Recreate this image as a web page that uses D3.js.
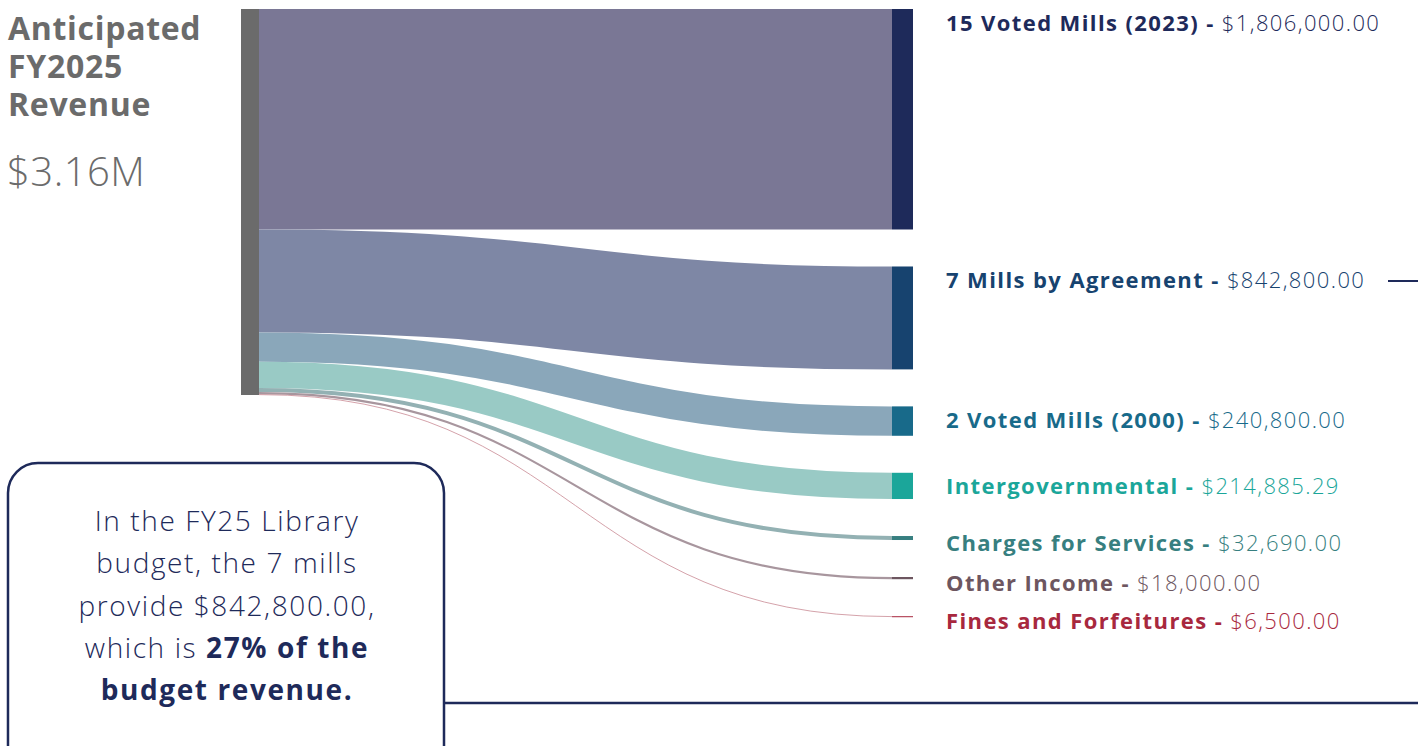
<!doctype html>
<html>
<head>
<meta charset="utf-8">
<style>
  body { margin: 0; background: #fff; font-family: "Open Sans", sans-serif; }
  svg { display: block; }
</style>
<script src="https://cdnjs.cloudflare.com/ajax/libs/d3/7.8.5/d3.min.js"></script>
</head>
<body>
<script>
// revenue sources
var names = ['15 Voted Mills (2023)', '7 Mills by Agreement', '2 Voted Mills (2000)',
  'Intergovernmental', 'Charges for Services', 'Other Income', 'Fines and Forfeitures'];
var amounts = [1806000, 842800, 240800, 214885.29, 32690, 18000, 6500];
var nodeColors = ['#1e2a5a', '#17436f', '#186a8a', '#1ba69a', '#377f80', '#6d5660', '#a8283e'];
var linkColors = ['#7a7795', '#7e87a5', '#8aa7ba', '#99cac5', '#93b1b3', '#a8969e', '#c98a94'];
var totalLabel = '$3.16M';

var W = 1418, H = 746;
var svg = d3.select('body').append('svg').attr('width', W).attr('height', H);

var total = d3.sum(amounts);
var top0 = 9, srcH = 386, pad = 37;
var srcX0 = 241, srcX1 = 259, tgtX0 = 892, tgtX1 = 913;
var h = d3.scaleLinear().domain([0, total]).range([0, srcH]);

// layout of links / target nodes
var nodes = [];
var sy = top0, ty = top0;
amounts.forEach(function(v, i) {
  var hh = h(v);
  nodes.push({ name: names[i], value: v, sy0: sy, ty0: ty, hh: hh, i: i });
  sy += hh;
  ty += hh + pad;
});

var link = d3.linkHorizontal().x(d => d[0]).y(d => d[1]);

svg.append('g').selectAll('path')
  .data(nodes).enter().append('path')
  .attr('d', d => link({ source: [srcX1, d.sy0 + d.hh / 2], target: [tgtX0, d.ty0 + d.hh / 2] }))
  .attr('fill', 'none')
  .attr('stroke', d => linkColors[d.i])
  .attr('stroke-width', d => Math.max(0.8, d.hh));

// source node
svg.append('rect')
  .attr('x', srcX0).attr('y', top0)
  .attr('width', srcX1 - srcX0).attr('height', srcH)
  .attr('fill', '#6b6b6b');

// target nodes
svg.append('g').selectAll('rect')
  .data(nodes).enter().append('rect')
  .attr('x', tgtX0).attr('y', d => d.ty0)
  .attr('width', tgtX1 - tgtX0).attr('height', d => Math.max(1, d.hh))
  .attr('fill', d => nodeColors[d.i]);

// labels
var fmt = d3.format('$,.2f');
var lab = svg.append('g').selectAll('text')
  .data(nodes).enter().append('text')
  .attr('x', 946)
  .attr('y', d => Math.min(d.ty0 + d.hh / 2, d.ty0 + 9) + 5)
  .attr('dy', '0.35em')
  .attr('font-size', 22)
  .attr('letter-spacing', 1.4)
  .attr('fill', d => nodeColors[d.i]);
lab.append('tspan').attr('font-weight', 700).text(d => d.name + ' - ');
lab.append('tspan').attr('font-weight', 300).text(d => fmt(d.value));

// little connector next to the 7 mills label
svg.append('line')
  .attr('x1', 1388).attr('x2', W)
  .attr('y1', 281).attr('y2', 281)
  .attr('stroke', '#1e2a5a').attr('stroke-width', 2);

// title block
var title = svg.append('text').attr('x', 8).attr('fill', '#6b6b6b')
  .attr('font-size', 32).attr('font-weight', 700).attr('letter-spacing', 0.7);
['Anticipated', 'FY2025', 'Revenue'].forEach(function(t, i) {
  title.append('tspan').attr('x', 8).attr('y', 40 + i * 38).text(t);
});
svg.append('text').attr('x', 7).attr('y', 186)
  .attr('fill', '#6b6b6b').attr('font-size', 40).attr('font-weight', 300)
  .attr('letter-spacing', 0.5)
  .text(totalLabel);

// callout box
svg.append('rect')
  .attr('x', 8).attr('y', 463).attr('width', 436).attr('height', 320)
  .attr('rx', 30).attr('ry', 30)
  .attr('fill', '#fff').attr('stroke', '#1e2a5a').attr('stroke-width', 2.5);
svg.append('line')
  .attr('x1', 445).attr('x2', W).attr('y1', 703).attr('y2', 703)
  .attr('stroke', '#1e2a5a').attr('stroke-width', 2.5);

var lines = [
  [['In the FY25 Library', 300]],
  [['budget, the 7 mills', 300]],
  [['provide $842,800.00,', 300]],
  [['which is ', 300], ['27% of the', 700]],
  [['budget revenue.', 700]]
];
lines.forEach(function(ln, i) {
  var t = svg.append('text').attr('x', 227).attr('y', 531 + i * 42.3)
    .attr('text-anchor', 'middle').attr('font-size', 28).attr('fill', '#1e2a5a')
    .attr('letter-spacing', 1.6);
  ln.forEach(function(p) {
    t.append('tspan').attr('font-weight', p[1]).text(p[0]);
  });
});
</script>
</body>
</html>
